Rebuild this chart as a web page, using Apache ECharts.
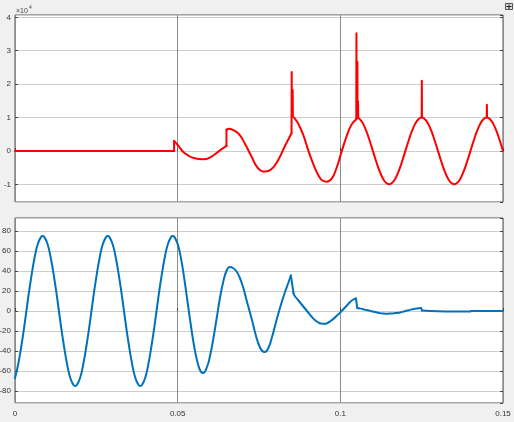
<!DOCTYPE html>
<html>
<head>
<meta charset="utf-8">
<script src="https://cdn.jsdelivr.net/npm/echarts@6/dist/echarts.min.js"></script>
<style>
html,body{margin:0;padding:0;background:#f0f0f0;}
#c{width:514px;height:422px;}
</style>
</head>
<body>
<div id="c"></div>
<script>
// ---- Top panel (red), raw values; axis shows units of 10^4. null = break between smooth pieces ----
const redCurveT = [0, 0.0489, null,
  0.0489, 0.0500, 0.0522, 0.0552, 0.0578, 0.0604, 0.0629, 0.0650, null,
  0.0650, 0.0658, 0.0665, 0.0686, 0.0706, 0.0727, 0.0747, 0.0768, 0.0788, 0.0809, 0.0829, 0.0850, null,
  0.0851, 0.0854, 0.0860, 0.0870, 0.0886, 0.0901, 0.0916, 0.0932, 0.0947, 0.0958, 0.0973, 0.0988, 0.1004, 0.1019, 0.1034, 0.1048, 0.1053, 0.106, 0.107, 0.108, 0.109, 0.110, 0.111, 0.112, 0.113, 0.114, 0.115, 0.116, 0.117, 0.118, 0.119, 0.120, 0.121, 0.122, 0.123, 0.124, 0.125, 0.126, 0.127, 0.128, 0.129, 0.130, 0.131, 0.132, 0.133, 0.134, 0.135, 0.136, 0.137, 0.138, 0.139, 0.140, 0.141, 0.142, 0.143, 0.144, 0.145, 0.146, 0.147, 0.148, 0.149, 0.150];
const redCurveV = [0, 0, null,
  3000, 1800, -700, -2200, -2500, -1700, 100, 1500, null,
  6300, 6600, 6500, 5300, 2300, -1700, -5200, -6200, -5500, -2700, 1300, 5300, null,
  12500, 10500, 9700, 8300, 4800, 300, -3700, -7200, -9000, -9200, -8400, -5200, -200, 4300, 7800, 9400, 9900, 9500, 8100, 5900, 3100, 0, -3100, -5900, -8100, -9500, -10000, -9500, -8100, -5900, -3100, 0, 3100, 5900, 8100, 9500, 10000, 9500, 8100, 5900, 3100, 0, -3100, -5900, -8100, -9500, -10000, -9500, -8100, -5900, -3100, 0, 3100, 5900, 8100, 9500, 10000, 9500, 8100, 5900, 3100, 0];
// jumps and spikes (straight lines)
const redSpikeT = [0.0489, 0.0489, null, 0.0650, 0.0650, null,
  0.0850, 0.08505, 0.0851, null, 0.0853, 0.08535, 0.0854, null,
  0.1049, 0.10495, 0.1050, null, 0.1052, 0.10525, 0.1053, null, 0.1054, 0.10545, 0.1055, null,
  0.1250, 0.12505, 0.1251, null, 0.1450, 0.14505, 0.1451];
const redSpikeV = [0, 3000, null, 1500, 6300, null,
  5300, 23600, 12500, null, 11500, 18300, 11000, null,
  9500, 35200, 9700, null, 9800, 26700, 9900, null, 9900, 14800, 9950, null,
  10000, 21000, 10000, null, 10000, 13800, 10000];

// ---- Bottom panel (blue) ----
const blueCurveT = [0, 0.001, 0.002, 0.003, 0.004, 0.005, 0.006, 0.007, 0.008, 0.0085, 0.009, 0.010, 0.011, 0.012, 0.013, 0.014, 0.015, 0.016, 0.017, 0.018, 0.0185, 0.019, 0.020, 0.021, 0.022, 0.023, 0.024, 0.025, 0.026, 0.027, 0.028, 0.0285, 0.029, 0.030, 0.031, 0.032, 0.033, 0.034, 0.035, 0.036, 0.037, 0.038, 0.0385, 0.039, 0.040, 0.041, 0.042, 0.043, 0.044, 0.045, 0.046, 0.047, 0.048, 0.0485, 0.049, 0.050, 0.051, 0.052, 0.053, 0.054, 0.055, 0.056, 0.057, 0.0578, 0.059, 0.060, 0.061, 0.062, 0.063, 0.064, 0.065, 0.066, 0.067, 0.068, 0.069, 0.070, 0.071, 0.072, 0.073, 0.074, 0.075, 0.076, 0.0768, 0.078, 0.079, 0.080, 0.081, 0.082, 0.083, 0.084, 0.0848, null,
  0.0856, 0.086, 0.087, 0.088, 0.089, 0.090, 0.091, 0.092, 0.093, 0.094, 0.0954, 0.096, 0.097, 0.098, 0.099, 0.100, 0.101, 0.102, 0.103, 0.104, 0.1048, null,
  0.1052, 0.106, 0.107, 0.108, 0.109, 0.110, 0.111, 0.112, 0.113, 0.114, 0.115, 0.116, 0.117, 0.118, 0.119, 0.120, 0.121, 0.122, 0.123, 0.124, 0.1248, null,
  0.1251, 0.130, 0.135, 0.140, null, 0.1401, 0.150];
const blueCurveV = [-67, -53, -34, -12, 12, 34, 53, 67, 74, 75, 74, 67, 53, 34, 12, -12, -34, -53, -67, -74, -75, -74, -67, -53, -34, -12, 12, 34, 53, 67, 74, 75, 74, 67, 53, 34, 12, -12, -34, -53, -67, -74, -75, -74, -67, -53, -34, -12, 12, 34, 53, 67, 74, 75, 74, 67, 53, 33, 10, -13, -34, -50, -60, -62, -56, -44, -27, -7, 13, 29, 40, 44, 43, 40, 34, 25, 13, 1, -11, -24, -34, -40, -41, -36, -26, -14, -2, 9, 19, 28, 35.5, null,
  18, 15, 11, 7, 3, -1, -5, -8.5, -11, -12.5, -12.7, -12, -10, -7.5, -4.5, -1.5, 2, 5.5, 9, 11.5, 12.5, null,
  3, 2.5, 1.8, 1, 0.3, -0.5, -1.3, -2, -2.5, -2.7, -2.6, -2.4, -2, -1.7, -0.9, 0, 0.8, 1.6, 2.3, 2.8, 3, null,
  0.5, -0.2, -0.4, -0.4, null, 0, 0];
const blueStepT = [0.0848, 0.0856, null, 0.1048, 0.1052, null, 0.1248, 0.1251, null, 0.140, 0.1401];
const blueStepV = [35.5, 18, null, 12.5, 3, null, 3, 0.5, null, -0.4, 0];

const xTickLabels = ['0', '0.05', '0.1', '0.15'];

const pairs = (T, V) => T.map((t, i) => (t === null || V[i] === null) ? ['-', '-'] : [t, V[i]]);

const FONT = 'Liberation Sans, Arial, Helvetica, sans-serif';
const labelStyle = {fontSize: 8, color: '#333', fontFamily: FONT};
const tickStyle = {color: '#444', width: 1};

function xAxisCfg(grid, showLabel) {
  return {
    type: 'value', gridIndex: grid, min: 0, max: 0.15, interval: 0.05,
    axisLine: {show: false},
    axisTick: {show: true, inside: true, length: 3, lineStyle: tickStyle},
    axisLabel: Object.assign({show: showLabel, margin: 7,
      formatter: v => { const i = Math.round(v / 0.05); return xTickLabels[i] !== undefined ? xTickLabels[i] : ''; }}, labelStyle),
    splitLine: {show: true, lineStyle: {color: '#8c8c8c', width: 1}}
  };
}
function yAxisCfg(grid, pos, min, max, step, fmt, showLabel) {
  return {
    type: 'value', gridIndex: grid, position: pos, min: min, max: max,
    minInterval: step, maxInterval: step,
    axisLine: {show: false},
    axisTick: {show: true, inside: true, length: 3, lineStyle: tickStyle},
    axisLabel: Object.assign({show: showLabel, margin: 4, showMinLabel: false, showMaxLabel: false, formatter: fmt}, labelStyle),
    splitLine: {show: pos === 'left', lineStyle: {color: '#cdcdcd', width: 1}}
  };
}
const lineSeries = (xi, yi, data, color, smooth) => ({
  type: 'line', xAxisIndex: xi, yAxisIndex: yi, data: data, showSymbol: false, symbol: 'none',
  connectNulls: false, smooth: smooth ? 0.5 : false,
  lineStyle: {color: color, width: 2, join: 'round', cap: 'round'}, clip: true, silent: true
});

const chart = echarts.init(document.getElementById('c'), null, {renderer: 'canvas'});
chart.setOption({
  backgroundColor: '#f0f0f0',
  animation: false,
  grid: [
    {left: 15, top: 15, width: 488, height: 187, show: true, backgroundColor: '#ffffff', borderColor: '#555', borderWidth: 1, containLabel: false, outerBoundsMode: 'none'},
    {left: 15, top: 218, width: 488, height: 185, show: true, backgroundColor: '#ffffff', borderColor: '#555', borderWidth: 1, containLabel: false, outerBoundsMode: 'none'}
  ],
  xAxis: [xAxisCfg(0, false), xAxisCfg(1, true)],
  yAxis: [
    yAxisCfg(0, 'left', -15300, 40700, 10000, v => String(Math.round(v / 10000)), true),
    yAxisCfg(0, 'right', -15300, 40700, 10000, v => '', false),
    yAxisCfg(1, 'left', -92, 93, 20, v => String(v), true),
    yAxisCfg(1, 'right', -92, 93, 20, v => '', false)
  ],
  series: [
    lineSeries(0, 0, pairs(redCurveT, redCurveV), '#ff0000', true),
    lineSeries(0, 0, pairs(redSpikeT, redSpikeV), '#ff0000', false),
    lineSeries(1, 2, pairs(blueCurveT, blueCurveV), '#0072bd', true),
    lineSeries(1, 2, pairs(blueStepT, blueStepV), '#0072bd', false)
  ],
  graphic: [
    {type: 'text', left: 16, top: 8, style: {text: '×10', fontSize: 7, fill: '#444', fontFamily: FONT}},
    {type: 'text', left: 29, top: 5, style: {text: '4', fontSize: 5, fill: '#444', fontFamily: FONT}},
    {type: 'rect', shape: {x: 505.5, y: 3.5, width: 7, height: 6}, style: {fill: '#d8d8d8', stroke: '#555', lineWidth: 1}},
    {type: 'line', shape: {x1: 509, y1: 4.5, x2: 509, y2: 9}, style: {stroke: '#222', lineWidth: 1}},
    {type: 'line', shape: {x1: 506.5, y1: 6.5, x2: 511.5, y2: 6.5}, style: {stroke: '#222', lineWidth: 1}}
  ]
});
</script>
</body>
</html>
